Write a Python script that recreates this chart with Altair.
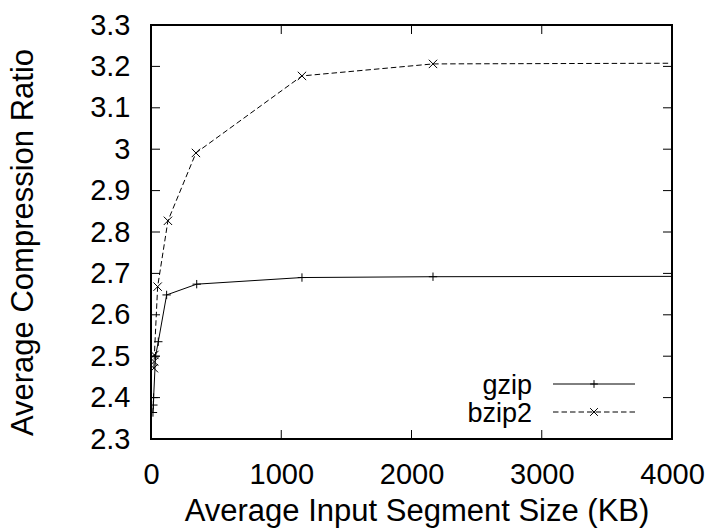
import altair as alt
import pandas as pd

# ---- data ----
series_names = ["gzip", "bzip2"]
gzip_x = [15, 18, 20, 35, 56, 120, 351, 1159, 2165, 4400]
gzip_y = [2.364, 2.382, 2.400, 2.500, 2.535, 2.648, 2.674, 2.690, 2.692, 2.693]
bzip2_x = [22, 24, 26, 51, 130, 345, 1159, 2165, 4400]
bzip2_y = [2.471, 2.487, 2.503, 2.668, 2.827, 2.991, 3.177, 3.206, 3.208]
x_ticks = [0, 1000, 2000, 3000, 4000]
y_ticks = [2.3, 2.4, 2.5, 2.6, 2.7, 2.8, 2.9, 3.0, 3.1, 3.2, 3.3]

FONT = "Liberation Sans"
W, H = 521, 414
PLUS = "M-1,0L1,0M0,-1L0,1"
CROSS = "M-1,-1L1,1M-1,1L1,-1"
DASH = [5.5, 3]

gz = pd.DataFrame({"x": gzip_x, "y": gzip_y})
bz = pd.DataFrame({"x": bzip2_x, "y": bzip2_y})

x_scale = alt.Scale(domain=[0, 4000], nice=False, zero=False)
y_scale = alt.Scale(domain=[2.3, 3.3], nice=False, zero=False)

x_axis = alt.Axis(values=x_ticks, format="d", title="Average Input Segment Size (KB)",
                  ticks=False, domain=False, grid=False, labelFlush=False, labelOverlap=False,
                  labelFontSize=29, labelPadding=21, titleFontSize=31, titleFontWeight="normal",
                  titleX=W / 2 + 5, titleY=72, titleBaseline="middle", titleAlign="center",
                  labelColor="black", titleColor="black", labelFont=FONT, titleFont=FONT)
y_axis = alt.Axis(values=y_ticks, format="~g", title="Average Compression Ratio",
                  ticks=False, domain=False, grid=False, labelFlush=False, labelOverlap=False,
                  labelFontSize=29, labelPadding=21, titleFontSize=31, titleFontWeight="normal",
                  titleX=-128, titleY=H / 2 + 10, titleBaseline="middle", titleAngle=-90,
                  titleAlign="center", labelColor="black", titleColor="black",
                  labelFont=FONT, titleFont=FONT)


def X(field):
    return alt.X(field, scale=x_scale, axis=x_axis)


def Y(field):
    return alt.Y(field, scale=y_scale, axis=y_axis)


gz_line = alt.Chart(gz).mark_line(color="black", strokeWidth=1, clip=True).encode(
    x=X("x:Q"), y=Y("y:Q"))
gz_pts = alt.Chart(gz).mark_point(shape=PLUS, size=70, filled=False, color="black",
                                  strokeWidth=1, opacity=1, clip=True).encode(
    x=X("x:Q"), y=Y("y:Q"))
bz_line = alt.Chart(bz).mark_line(color="black", strokeWidth=1, strokeDash=DASH, clip=True).encode(
    x=X("x:Q"), y=Y("y:Q"))
bz_pts = alt.Chart(bz).mark_point(shape=CROSS, size=70, filled=False, color="black",
                                  strokeWidth=1, opacity=1, clip=True).encode(
    x=X("x:Q"), y=Y("y:Q"))

# inward ticks on all four sides (gnuplot style)
yt = pd.DataFrame({"x": [0] * len(y_ticks), "y": y_ticks})
xt = pd.DataFrame({"x": x_ticks, "y": [2.3] * len(x_ticks)})
TL = 9
yt_left = alt.Chart(yt).mark_rule(color="black", strokeWidth=1).encode(
    y=Y("y:Q"), x=alt.value(0), x2=alt.value(TL))
yt_right = alt.Chart(yt).mark_rule(color="black", strokeWidth=1).encode(
    y=Y("y:Q"), x=alt.value(W - TL), x2=alt.value(W))
xt_bot = alt.Chart(xt).mark_rule(color="black", strokeWidth=1).encode(
    x=X("x:Q"), y=alt.value(H), y2=alt.value(H - TL))
xt_top = alt.Chart(xt).mark_rule(color="black", strokeWidth=1).encode(
    x=X("x:Q"), y=alt.value(0), y2=alt.value(TL))

# manual legend (label left of sample, gnuplot style)
legend_layers = []
for i, (name, shape, dash) in enumerate([(series_names[0], PLUS, None),
                                         (series_names[1], CROSS, DASH)]):
    ldf = pd.DataFrame({"label": [name]})
    ty = 369 + i * 28
    ly = ty - 10
    legend_layers.append(
        alt.Chart(ldf).mark_text(align="right", baseline="alphabetic", fontSize=27,
                                 font=FONT, color="black").encode(
            text="label:N", x=alt.value(381), y=alt.value(ty)))
    rule_kw = dict(color="black", strokeWidth=1)
    if dash:
        rule_kw["strokeDash"] = dash
    legend_layers.append(
        alt.Chart(ldf).mark_rule(**rule_kw).encode(
            x=alt.value(402), x2=alt.value(484), y=alt.value(ly)))
    legend_layers.append(
        alt.Chart(ldf).mark_point(shape=shape, size=60, filled=False, color="black",
                                  strokeWidth=1, opacity=1).encode(
            x=alt.value(443), y=alt.value(ly)))

chart = alt.layer(
    gz_line, gz_pts, bz_line, bz_pts, yt_left, yt_right, xt_bot, xt_top, *legend_layers
).properties(
    width=W, height=H,
    autosize=alt.AutoSizeParams(type="none"),
    padding={"left": 151, "top": 25, "right": 41, "bottom": 92},
    background="white",
).configure(
    font=FONT
).configure_view(
    stroke="black", strokeWidth=2
)

chart.save("out.html", embed_options={"renderer": "svg", "actions": False})
